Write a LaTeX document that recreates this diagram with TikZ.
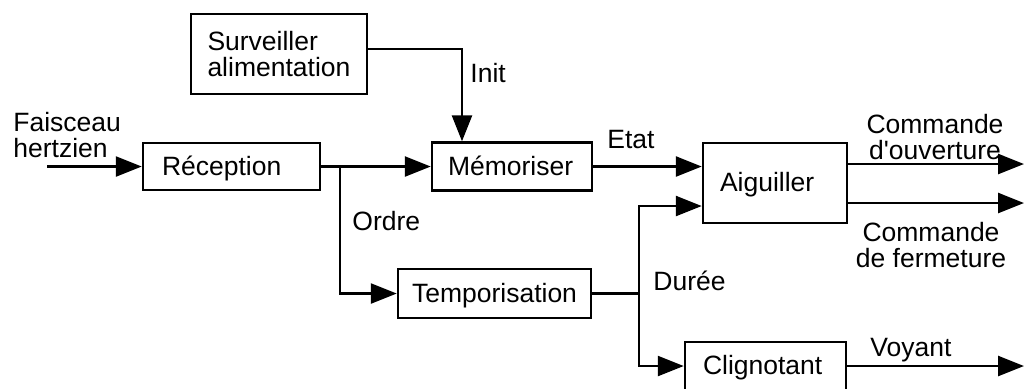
\documentclass[tikz,border=0pt]{standalone}
\usepackage{fontspec}
\setmainfont{Liberation Sans}
\usetikzlibrary{arrows.meta}
\begin{document}
\begin{tikzpicture}[x=0.5pt,y=-0.5pt,
  every node/.style={font=\fontsize{13.25pt}{13pt}\selectfont},
  block/.style={draw, line width=1.25pt, rectangle, inner ysep=0pt},
  oneline/.style={text height=0.86em, text depth=0em},
  flow/.style={line width=1.3pt, -{Triangle[length=13pt,width=10pt]}},
  wire/.style={line width=1.3pt},
  lbl/.style={inner sep=0pt, anchor=base west},
  ml/.style={inner sep=0pt}
]
\useasboundingbox (0,0) rectangle (1024,388);
\clip (0,0) rectangle (1024,388);

% blocks
\node[block, minimum height=40pt, text width=71.5pt, inner xsep=8.25pt, align=left]
  (surv) at (279,54) {Surveiller\\alimentation};
\node[block, oneline, minimum height=23.5pt, text width=69.5pt, inner xsep=9.5pt, align=left]
  (rec) at (231.5,166.5) {Réception};
\node[block, oneline, minimum height=24pt, text width=64pt, inner xsep=8pt, align=left]
  (mem) at (512,166.5) {Mémoriser};
\node[block, oneline, minimum height=24.5pt, text width=86.5pt, inner xsep=5pt, align=center]
  (tempo) at (494.5,293.5) {Temporisation};
\node[block, oneline, minimum height=40pt, text width=55pt, inner xsep=8.5pt, align=left]
  (aig) at (775,183) {Aiguiller};
\node[block, oneline, minimum height=24pt, text width=62.5pt, inner xsep=9pt, align=left]
  (clig) at (765.5,366) {Clignotant};

% connection points
\coordinate (src) at (47,166.5);
\coordinate (split) at (340,166.5);
\coordinate (initc) at (462,49);
\coordinate (join) at (639,293.5);
\coordinate (aigin) at (703,206);
\coordinate (o1) at (1024,164);
\coordinate (o2) at (1024,203);
\coordinate (o3) at (1024,366);

% connectors
\draw[flow] (src) -- (rec);
\draw[flow] (rec.east) -- (mem.west);
\draw[flow] (split) |- (tempo.west);
\draw[flow] (surv.east |- initc) -| (mem.north -| initc);
\draw[flow] (mem.east) -- (mem.east -| aig.west);
\draw[wire] (tempo.east) -- (join);
\draw[flow] (join) |- (aig.west |- aigin);
\draw[flow] (join) |- (clig.west);
\draw[flow] (aig.east |- o1) -- (o1);
\draw[flow] (aig.east |- o2) -- (o2);
\draw[flow] (clig.east |- o3) -- (o3);

% signal labels
\node[ml, anchor=north west, align=left] (lfais) at (13,112) {Faisceau\\hertzien};
\node[lbl] (linit) at (470,82) {Init};
\node[lbl] (letat) at (607,148) {Etat};
\node[lbl] (lordre) at (352,230) {Ordre};
\node[lbl] (lduree) at (653,290) {Durée};
\node[lbl] (lvoy) at (870,356) {Voyant};
\node[ml, anchor=north, align=center] (lopen) at (935,114) {Commande\\d\textquotesingle ouverture};
\node[ml, anchor=north, align=center] (lclose) at (931,222) {Commande\\de fermeture};
\end{tikzpicture}
\end{document}
